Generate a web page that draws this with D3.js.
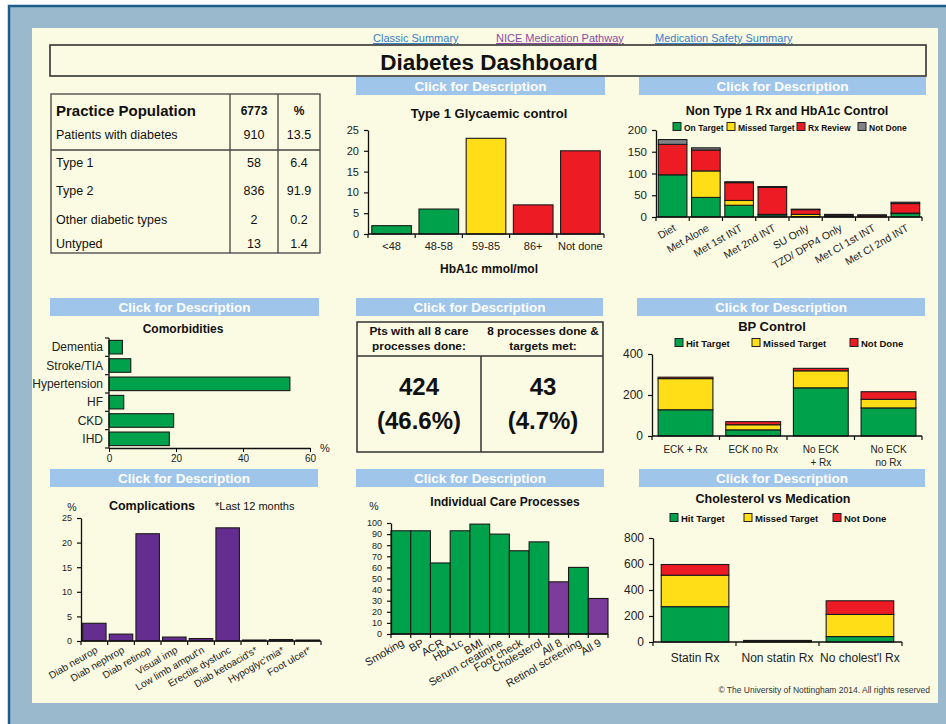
<!DOCTYPE html>
<html>
<head>
<meta charset="utf-8">
<script src="https://cdn.jsdelivr.net/npm/d3@7"></script>
<style>
body{margin:0;background:#fff;}
text{font-family:"Liberation Sans",Arial,Helvetica,sans-serif;fill:#111;}
</style>
</head>
<body>
<div id="TOP"></div>
<script>
//------------------------------------------------------------------------ Data
var popHeader = ["Practice Population", "6773", "%"];
var popLabels = ["Patients with diabetes", "Type 1", "Type 2", "Other diabetic types", "Untyped"];
var popCounts = [910, 58, 836, 2, 13];
var popPct = ["13.5", "6.4", "91.9", "0.2", "1.4"];

var t1Cats = ["<48", "48-58", "59-85", "86+", "Not done"];
var t1Values = [2, 6, 23, 7, 20];

var rxCats = ["Diet", "Met Alone", "Met 1st INT", "Met 2nd INT", "SU Only", "TZD/ DPP4 Only", "Met CI 1st INT", "Met CI 2nd INT"];
var rxKeys = ["On Target", "Missed Target", "Rx Review", "Not Done"];
var rxOnTarget = [97, 45, 27, 5, 1, 1, 0, 8];
var rxMissed = [0, 61, 11, 1, 5, 0, 0, 1];
var rxReview = [70, 48, 41, 62, 11, 3, 4, 22];
var rxNotDone = [11, 5, 2, 2, 1, 2, 1, 3];

var comCats = ["Dementia", "Stroke/TIA", "Hypertension", "HF", "CKD", "IHD"];
var comValues = [4, 6.5, 54, 4.4, 19.3, 18];

var careHeads = [["Pts with all 8 care", "processes done:"], ["8 processes done &", "targets met:"]];
var careCounts = ["424", "43"];
var carePct = ["(46.6%)", "(4.7%)"];

var bpCats = ["ECK + Rx", "ECK no Rx", "No ECK|+ Rx", "No ECK|no Rx"];
var bpKeys = ["Hit Target", "Missed Target", "Not Done"];
var bpHit = [128, 30, 235, 137];
var bpMissed = [152, 25, 83, 42];
var bpNotDone = [7, 15, 12, 37];

var compCats = ["Diab neurop", "Diab nephrop", "Diab retinop", "Visual imp", "Low limb amput'n", "Erectile dysfunc", "Diab ketoacid's*", "Hypoglyc'mia*", "Foot ulcer*"];
var compValues = [3.6, 1.4, 21.8, 0.8, 0.5, 23, 0.2, 0.3, 0.2];

var procCats = ["Smoking", "BP", "ACR", "HbA1c", "BMI", "Serum creatinine", "Foot check", "Cholesterol", "All 8", "Retinol screening", "All 9"];
var procValues = [93, 93, 64, 93, 99, 90, 75, 83, 47, 60, 32];
var procAll = ["All 8", "All 9"];

var cholCats = ["Statin Rx", "Non statin Rx", "No cholest'l Rx"];
var cholKeys = ["Hit Target", "Missed Target", "Not Done"];
var cholHit = [272, 5, 42];
var cholMissed = [242, 4, 170];
var cholNotDone = [82, 3, 105];

//------------------------------------------------------------------------ Colours
var colGreen = "#00a14b", colYellow = "#ffde17", colRed = "#ed1c24", colGrey = "#808285",
    colPurple = "#662d91", colPurple2 = "#7b3c9b", colDesc = "#9fc6ea";

//------------------------------------------------------------------------ Functions
function newSvg(targetDOMobject, width, height){
  return d3.select(targetDOMobject).append("svg").attr("width", width).attr("height", height);
}

var svg = newSvg("#TOP", 946, 724);

function txt(x, y, s, size, opts){
  opts = opts || {};
  return svg.append("text").attr("x", x).attr("y", y)
    .attr("font-size", size)
    .attr("font-weight", opts.bold ? "bold" : "normal")
    .attr("text-anchor", opts.anchor || "start")
    .style("fill", opts.fill || "#111")
    .text(s);
}

function descBar(x, y, w){
  svg.append("rect").attr("x", x).attr("y", y).attr("width", w).attr("height", 18).attr("fill", colDesc);
  txt(x + w/2, y + 14, "Click for Description", 13.5, {bold: true, anchor: "middle", fill: "#fff"});
}

function legend(keys, colors, xs, y, size){
  keys.forEach(function(k, i){
    svg.append("rect").attr("x", xs[i]).attr("y", y - 4.5).attr("width", 8).attr("height", 8)
      .attr("fill", colors[i]).attr("stroke", "#222").attr("stroke-width", 1);
    txt(xs[i] + 11, y + 3.5, k, size, {bold: true});
  });
}

// vertical (optionally stacked) bar chart
function barChart(o){
  var n = o.cats.length;
  var x = d3.scaleBand().domain(o.cats).range([o.x0, o.x1]).paddingInner(o.pi).paddingOuter(o.po);
  var y = d3.scaleLinear().domain([0, o.max]).range([o.yb, o.yt]);
  var rows = o.cats.map(function(c, i){ return o.series.map(function(s){ return s[i]; }); });
  var stacked = d3.stack().keys(d3.range(o.series.length))(rows);
  var g = svg.append("g");
  stacked.forEach(function(layer, li){
    g.selectAll(null).data(layer).enter().append("rect")
      .attr("x", function(d, i){ return x(o.cats[i]); })
      .attr("width", x.bandwidth())
      .attr("y", function(d){ return y(d[1]); })
      .attr("height", function(d){ return Math.max(0, y(d[0]) - y(d[1])); })
      .attr("fill", function(d, i){ return o.colorFn ? o.colorFn(o.cats[i]) : o.colors[li]; })
      .attr("stroke", "#1a1a1a").attr("stroke-width", 1.1);
  });
  // y axis
  var ya = svg.append("g").attr("transform", "translate(" + o.x0 + ",0)")
    .call(d3.axisLeft(y).tickValues(o.ticks).tickSize(4).tickSizeOuter(0).tickPadding(o.tp || 5));
  ya.select(".domain").attr("stroke", "#111").attr("stroke-width", 1.3);
  ya.selectAll(".tick line").attr("stroke", "#111").attr("stroke-width", 1.2);
  ya.selectAll(".tick text").attr("font-size", o.tickFont).attr("font-family", null).style("fill", "#222");
  // x axis with ticks at band boundaries
  svg.append("line").attr("x1", o.x0).attr("x2", o.x1).attr("y1", o.yb).attr("y2", o.yb)
    .attr("stroke", "#111").attr("stroke-width", 1.3);
  d3.range(n + 1).forEach(function(i){
    var bx = o.x0 + i * (o.x1 - o.x0) / n;
    svg.append("line").attr("x1", bx).attr("x2", bx).attr("y1", o.yb).attr("y2", o.yb + 4)
      .attr("stroke", "#111").attr("stroke-width", 1.2);
  });
  // category labels
  o.cats.forEach(function(c, i){
    var cx = x(c) + x.bandwidth()/2;
    if (o.rotate){
      svg.append("text").attr("transform", "translate(" + (cx + o.ldx) + "," + (o.yb + o.ldy) + ") rotate(" + o.rotate + ")")
        .attr("text-anchor", "end").attr("font-size", o.labelFont).style("fill", "#222").text(c);
    } else {
      c.split("|").forEach(function(line, li){
        txt(cx, o.yb + o.ldy + li * 13, line, o.labelFont, {anchor: "middle", fill: "#222"});
      });
    }
  });
  return {x: x, y: y};
}

//------------------------------------------------------------------------ Frame
svg.append("rect").attr("x", 9).attr("y", 6).attr("width", 960).attr("height", 740)
  .attr("fill", "#9bb9cc").attr("stroke", "#1d5c8a").attr("stroke-width", 2.5);
svg.append("rect").attr("x", 32).attr("y", 28).attr("width", 906).attr("height", 675).attr("fill", "#fbfae3");

// links
[["Classic Summary", 373, "#3a80c8"], ["NICE Medication Pathway", 496, "#8d4aa3"], ["Medication Safety Summary", 655, "#3a80c8"]]
  .forEach(function(l){
    txt(l[1], 42, l[0], 11, {fill: l[2]}).style("text-decoration", "underline");
  });

svg.append("rect").attr("x", 50).attr("y", 45).attr("width", 876).attr("height", 31)
  .attr("fill", "none").attr("stroke", "#333").attr("stroke-width", 1.6);
txt(489, 70, "Diabetes Dashboard", 22.5, {bold: true, anchor: "middle"});

// description bars
descBar(356, 77, 249); descBar(639, 77, 287);
descBar(50, 298, 269); descBar(356, 298, 247); descBar(637, 298, 288);
descBar(50, 469, 268); descBar(356, 469, 248); descBar(639, 469, 286);

//------------------------------------------------------------------------ Practice population table
svg.append("rect").attr("x", 51).attr("y", 94).attr("width", 269).attr("height", 159)
  .attr("fill", "none").attr("stroke", "#444").attr("stroke-width", 1.3);
[230, 278].forEach(function(vx){
  svg.append("line").attr("x1", vx).attr("x2", vx).attr("y1", 94).attr("y2", 253).attr("stroke", "#444").attr("stroke-width", 1.3);
});
svg.append("line").attr("x1", 51).attr("x2", 320).attr("y1", 150).attr("y2", 150).attr("stroke", "#444").attr("stroke-width", 1.3);
txt(56, 116, popHeader[0], 15, {bold: true});
txt(254, 115, popHeader[1], 12, {bold: true, anchor: "middle"});
txt(299, 115, popHeader[2], 12, {bold: true, anchor: "middle"});
var popY = [139, 167, 195, 224, 248];
popLabels.forEach(function(l, i){
  txt(56, popY[i], l, 12.5);
  txt(254, popY[i], popCounts[i], 12.5, {anchor: "middle"});
  txt(299, popY[i], popPct[i], 12.5, {anchor: "middle"});
});

//------------------------------------------------------------------------ Type 1 glycaemic control
txt(489, 118, "Type 1 Glycaemic control", 13, {bold: true, anchor: "middle"});
barChart({cats: t1Cats, series: [t1Values], colorFn: function(c){ var i = t1Cats.indexOf(c); return i < 2 ? colGreen : (i == 2 ? colYellow : colRed); },
  x0: 368, x1: 604, yb: 234, yt: 130, max: 25, ticks: [0, 5, 10, 15, 20, 25], pi: 0.16, po: 0.08,
  tickFont: 11, labelFont: 11, ldy: 16});
txt(489, 273, "HbA1c mmol/mol", 12, {bold: true, anchor: "middle"});

//------------------------------------------------------------------------ Non Type 1 Rx
txt(787, 115, "Non Type 1 Rx and HbA1c Control", 12.5, {bold: true, anchor: "middle"});
legend(rxKeys, [colGreen, colYellow, colRed, colGrey], [673, 727, 797, 858], 127, 8.5);
barChart({cats: rxCats, series: [rxOnTarget, rxMissed, rxReview, rxNotDone], colors: [colGreen, colYellow, colRed, colGrey],
  x0: 656, x1: 922, yb: 217, yt: 130, max: 200, ticks: [0, 50, 100, 150, 200], pi: 0.14, po: 0.07,
  tickFont: 11.5, labelFont: 10.5, rotate: -30, ldx: 4, ldy: 13});

//------------------------------------------------------------------------ Comorbidities
txt(183, 333, "Comorbidities", 12, {bold: true, anchor: "middle"});
(function(){
  var y = d3.scaleBand().domain(comCats).range([338, 448]).paddingInner(0.26).paddingOuter(0.13);
  var x = d3.scaleLinear().domain([0, 60]).range([109, 310]);
  svg.selectAll(null).data(comValues).enter().append("rect")
    .attr("x", x(0)).attr("y", function(d, i){ return y(comCats[i]); })
    .attr("width", function(d){ return x(d) - x(0); }).attr("height", y.bandwidth())
    .attr("fill", colGreen).attr("stroke", "#1a1a1a").attr("stroke-width", 1.1);
  var xa = svg.append("g").attr("transform", "translate(0,448)")
    .call(d3.axisBottom(x).tickValues([0, 20, 40, 60]).tickSize(4).tickSizeOuter(0).tickPadding(3));
  xa.select(".domain").attr("stroke", "#111").attr("stroke-width", 1.3);
  xa.selectAll(".tick text").attr("font-size", 10).attr("font-family", null).style("fill", "#222");
  svg.append("line").attr("x1", 109).attr("x2", 109).attr("y1", 338).attr("y2", 448).attr("stroke", "#111").attr("stroke-width", 1.3);
  d3.range(comCats.length + 1).forEach(function(i){
    var by = 338 + i * 110 / comCats.length;
    svg.append("line").attr("x1", 105).attr("x2", 109).attr("y1", by).attr("y2", by).attr("stroke", "#111").attr("stroke-width", 1.2);
  });
  comCats.forEach(function(c){
    txt(103, y(c) + y.bandwidth()/2 + 4, c, 12, {anchor: "end", fill: "#222"});
  });
  txt(325, 452, "%", 11, {anchor: "middle", fill: "#222"});
})();

//------------------------------------------------------------------------ Care processes box
svg.append("rect").attr("x", 357).attr("y", 322).attr("width", 246).attr("height", 130)
  .attr("fill", "none").attr("stroke", "#333").attr("stroke-width", 1.5);
svg.append("line").attr("x1", 357).attr("x2", 603).attr("y1", 356).attr("y2", 356).attr("stroke", "#333").attr("stroke-width", 1.5);
svg.append("line").attr("x1", 481).attr("x2", 481).attr("y1", 356).attr("y2", 452).attr("stroke", "#333").attr("stroke-width", 1.5);
[419, 543].forEach(function(cx, i){
  txt(cx, 335, careHeads[i][0], 11.8, {bold: true, anchor: "middle"});
  txt(cx, 350, careHeads[i][1], 11.8, {bold: true, anchor: "middle"});
  txt(cx, 395, careCounts[i], 24, {bold: true, anchor: "middle"});
  txt(cx, 429, carePct[i], 24, {bold: true, anchor: "middle"});
});

//------------------------------------------------------------------------ BP control
txt(772, 331, "BP Control", 13, {bold: true, anchor: "middle"});
legend(bpKeys, [colGreen, colYellow, colRed], [675, 752, 850], 343, 9.5);
barChart({cats: bpCats, series: [bpHit, bpMissed, bpNotDone], colors: [colGreen, colYellow, colRed],
  x0: 652, x1: 922, yb: 436, yt: 354, max: 400, ticks: [0, 200, 400], pi: 0.19, po: 0.09,
  tickFont: 12, labelFont: 10, ldy: 17});

//------------------------------------------------------------------------ Complications
txt(152, 510, "Complications", 12.5, {bold: true, anchor: "middle"});
txt(215, 510, "*Last 12 months", 11);
txt(72, 511, "%", 10.5, {anchor: "middle", fill: "#222"});
barChart({cats: compCats, series: [compValues], colors: [colPurple],
  x0: 81, x1: 321, yb: 641, yt: 518, max: 25, ticks: [0, 5, 10, 15, 20, 25], pi: 0.12, po: 0.06,
  tickFont: 9, labelFont: 10, rotate: -30, ldx: 4, ldy: 11});

//------------------------------------------------------------------------ Individual care processes
txt(505, 506, "Individual Care Processes", 12, {bold: true, anchor: "middle"});
txt(374, 510, "%", 10.5, {anchor: "middle", fill: "#222"});
barChart({cats: procCats, series: [procValues], colorFn: function(c){ return procAll.indexOf(c) >= 0 ? colPurple2 : colGreen; },
  x0: 391, x1: 608, yb: 634, yt: 523, max: 100, ticks: d3.range(0, 101, 10), pi: 0, po: 0,
  tickFont: 9, labelFont: 11, rotate: -30, ldx: 4, ldy: 11});

//------------------------------------------------------------------------ Cholesterol vs medication
txt(773, 503, "Cholesterol vs Medication", 12.5, {bold: true, anchor: "middle"});
legend(cholKeys, [colGreen, colYellow, colRed], [670, 744, 833], 518, 9.5);
barChart({cats: cholCats, series: [cholHit, cholMissed, cholNotDone], colors: [colGreen, colYellow, colRed],
  x0: 653, x1: 902, yb: 642, yt: 538, max: 800, ticks: [0, 200, 400, 600, 800], pi: 0.18, po: 0.1,
  tickFont: 12, labelFont: 12, ldy: 20});

txt(930, 693, "\u00a9 The University of Nottingham 2014. All rights reserved", 8.5, {anchor: "end", fill: "#333"});
</script>
</body>
</html>
